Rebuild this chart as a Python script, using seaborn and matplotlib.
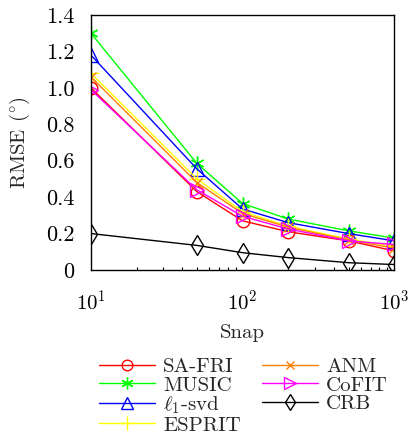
import numpy as np
import pandas as pd
import matplotlib
matplotlib.use("Agg")
import matplotlib.pyplot as plt
import seaborn as sns
from matplotlib.ticker import FixedLocator, FuncFormatter, LogLocator

sns.set_style("white")
plt.rcParams['font.family'] = ['cmr10', 'DejaVu Serif']
plt.rcParams['mathtext.fontset'] = 'cm'
plt.rcParams['axes.formatter.use_mathtext'] = True

snap = [10, 50, 100, 200, 500, 1000]
sa_fri = [1.00, 0.43, 0.27, 0.21, 0.16, 0.105]
music = [1.30, 0.585, 0.365, 0.28, 0.215, 0.175]
l1_svd = [1.18, 0.555, 0.335, 0.26, 0.20, 0.16]
esprit = [1.08, 0.50, 0.32, 0.24, 0.17, 0.13]
anm = [1.06, 0.48, 0.31, 0.235, 0.165, 0.12]
cofit = [0.99, 0.44, 0.295, 0.225, 0.16, 0.14]
crb = [0.20, 0.135, 0.095, 0.068, 0.04, 0.03]

names = ['SA-FRI', 'MUSIC', r'$\ell_1$-svd', 'ESPRIT', 'ANM', 'CoFIT', 'CRB']
values = [sa_fri, music, l1_svd, esprit, anm, cofit, crb]
colors = ['#ff0000', '#00ff00', '#0000ff', '#ffff00', '#ff8000', '#ff00ff', '#000000']
markers = ['o', (6, 2, 0), '^', '+', 'x', '>', 'd']
filled = [False, True, False, True, True, False, False]
msizes = [9, 10, 10, 12, 7, 10, 10]

fig = plt.figure(figsize=(4.08, 4.38), dpi=100)
ax = fig.add_axes([0.223, 0.3836, 0.743, 0.582])

for name, vals, c, m, f, ms in zip(names, values, colors, markers, filled, msizes):
    df = pd.DataFrame({'Snap': snap, 'RMSE': vals})
    kw = dict(marker=m, markersize=ms, linewidth=1.0, color=c, label=name,
              markeredgecolor=c, markeredgewidth=1.0)
    if not f:
        kw['markerfacecolor'] = 'none'
    sns.lineplot(data=df, x='Snap', y='RMSE', ax=ax, **kw)
if ax.get_legend() is not None:
    ax.get_legend().remove()

ax.set_xscale('log')
ax.set_xlim(10, 1000)
ax.set_ylim(0, 1.4)
ax.yaxis.set_major_locator(FixedLocator([0, 0.2, 0.4, 0.6, 0.8, 1.0, 1.2, 1.4]))
ax.yaxis.set_major_formatter(FuncFormatter(lambda v, p: '0' if abs(v) < 1e-9 else f'{v:.1f}'))
ax.xaxis.set_major_locator(LogLocator(base=10))
ax.xaxis.set_minor_locator(LogLocator(base=10, subs=np.arange(2, 10)))
ax.tick_params(axis='both', which='both', direction='in', top=False, right=False,
               colors='black')
ax.tick_params(axis='y', which='major', length=4, width=0.8, pad=12, labelsize=16)
ax.tick_params(axis='x', which='major', length=4, width=0.8, pad=14, labelsize=15)
ax.tick_params(axis='x', which='minor', length=2.5, width=0.8, bottom=True)
for s in ax.spines.values():
    s.set_color('black')
    s.set_linewidth(1.0)
ax.set_xlabel('Snap', fontsize=15, labelpad=7)
ax.set_ylabel(r'RMSE $(^{\circ})$', fontsize=15, labelpad=10)

leg = fig.legend(loc='upper left', bbox_to_anchor=(0.242, 0.184), ncol=2, frameon=False,
                 fontsize=15, handlelength=2.7, columnspacing=1.0, handletextpad=0.4,
                 labelspacing=0.0, borderaxespad=0, borderpad=0, markerscale=0.85)
fig.savefig('out.png', dpi=100)
